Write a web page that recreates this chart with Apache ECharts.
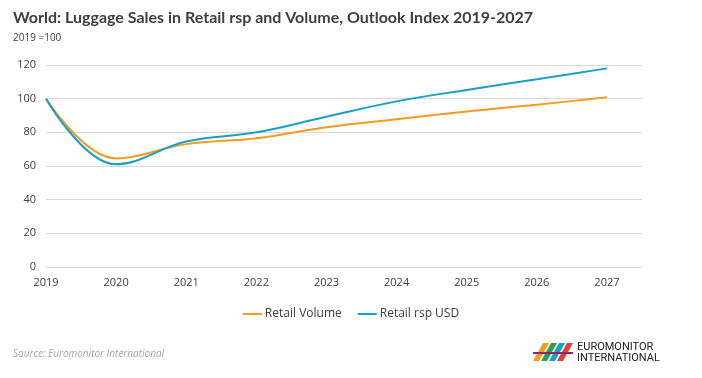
<!DOCTYPE html>
<html><head><meta charset="utf-8">
<script src="https://cdn.jsdelivr.net/npm/echarts@6/dist/echarts.min.js"></script>
<style>html,body{margin:0;padding:0;background:#fff}#c{width:702px;height:378px}</style>
</head><body><div id="c"></div>
<script>
const years = [2019, 2020, 2021, 2022, 2023, 2024, 2025, 2026, 2027];
const retailVolume = [100, 64.5, 73, 76.5, 83, 87.8, 92.4, 96.4, 100.8];
const retailRspUSD = [100, 61, 74.5, 80, 89.3, 98.4, 105.2, 111.5, 118];
const yTicks = [0, 20, 40, 60, 80, 100, 120];
const seriesNames = ['Retail Volume', 'Retail rsp USD'];

const chart = echarts.init(document.getElementById('c'), null, {renderer: 'canvas'});
const fontFam = '"Open Sans", "Noto Sans", sans-serif';
const titleFam = 'Lato, "Open Sans", sans-serif';
chart.setOption({
  animation: false,
  title: [
    {text: 'World: Luggage Sales in Retail rsp and Volume, Outlook Index 2019-2027', left: 8, top: 5,
     textStyle: {fontFamily: titleFam, fontSize: 16, fontWeight: 'bold', color: '#404040'}},
    {text: '2019 =100', left: 8, top: 28, textStyle: {fontFamily: fontFam, fontSize: 10, fontWeight: 'normal', color: '#404040'}},
    {text: 'Source: Euromonitor International', left: 8, top: 344,
     textStyle: {fontFamily: fontFam, fontSize: 10, fontStyle: 'italic', fontWeight: 'normal', color: '#a6a6a6'}}
  ],
  legend: {
    data: seriesNames, top: 303, left: 'center', itemWidth: 19, itemHeight: 2, itemGap: 16,
    icon: 'rect',
    textStyle: {fontFamily: fontFam, fontSize: 12, color: '#404040', padding: [0, 0, 0, -2]}
  },
  grid: {left: 46, right: 60, top: 65, bottom: 111, containLabel: false},
  xAxis: {
    type: 'value', min: years[0], max: years[years.length - 1] + 0.5, interval: 1,
    axisLine: {show: true, lineStyle: {color: '#d9d9d9', width: 1}},
    axisTick: {show: false},
    splitLine: {show: false},
    axisLabel: {fontFamily: fontFam, fontSize: 11, color: '#404040', margin: 10,
      formatter: v => Number.isInteger(v) ? String(v) : ''}
  },
  yAxis: {
    type: 'value', min: yTicks[0], max: yTicks[yTicks.length - 1], interval: 20,
    axisLine: {show: false}, axisTick: {show: false},
    splitLine: {lineStyle: {color: '#d9d9d9', width: 1}},
    axisLabel: {fontFamily: fontFam, fontSize: 11, color: '#404040', margin: 10}
  },
  series: [
    {name: seriesNames[0], type: 'line', smooth: 0.4, symbol: 'none',
     data: years.map((y, i) => [y, retailVolume[i]]),
     lineStyle: {color: '#F39C1F', width: 2}, itemStyle: {color: '#F39C1F'}},
    {name: seriesNames[1], type: 'line', smooth: 0.4, symbol: 'none',
     data: years.map((y, i) => [y, retailRspUSD[i]]),
     lineStyle: {color: '#1B9FC2', width: 2}, itemStyle: {color: '#1B9FC2'}}
  ],
  graphic: [
    {type: 'group', left: 533, top: 343, children: [
      {type: 'polygon', shape: {points: [[0,20],[10,2],[16,2],[6,20]]}, style: {fill: '#F39C1F'}},
      {type: 'polygon', shape: {points: [[8,20],[18,2],[24,2],[14,20]]}, style: {fill: '#2E9E5B'}},
      {type: 'polygon', shape: {points: [[16,20],[26,2],[32,2],[22,20]]}, style: {fill: '#1B9FC2'}},
      {type: 'polygon', shape: {points: [[24,20],[34,2],[40,2],[30,20]]}, style: {fill: '#E0413A'}},
      {type: 'rect', shape: {x: 0, y: 11, width: 40, height: 2}, style: {fill: '#8B2A6B'}}
    ]},
    {type: 'text', left: 577, top: 342, style: {text: 'EUROMONITOR\nINTERNATIONAL', fill: '#222',
      font: '11px "Liberation Sans Narrow", "Roboto", sans-serif', lineHeight: 11}}
  ]
});
</script></body></html>
